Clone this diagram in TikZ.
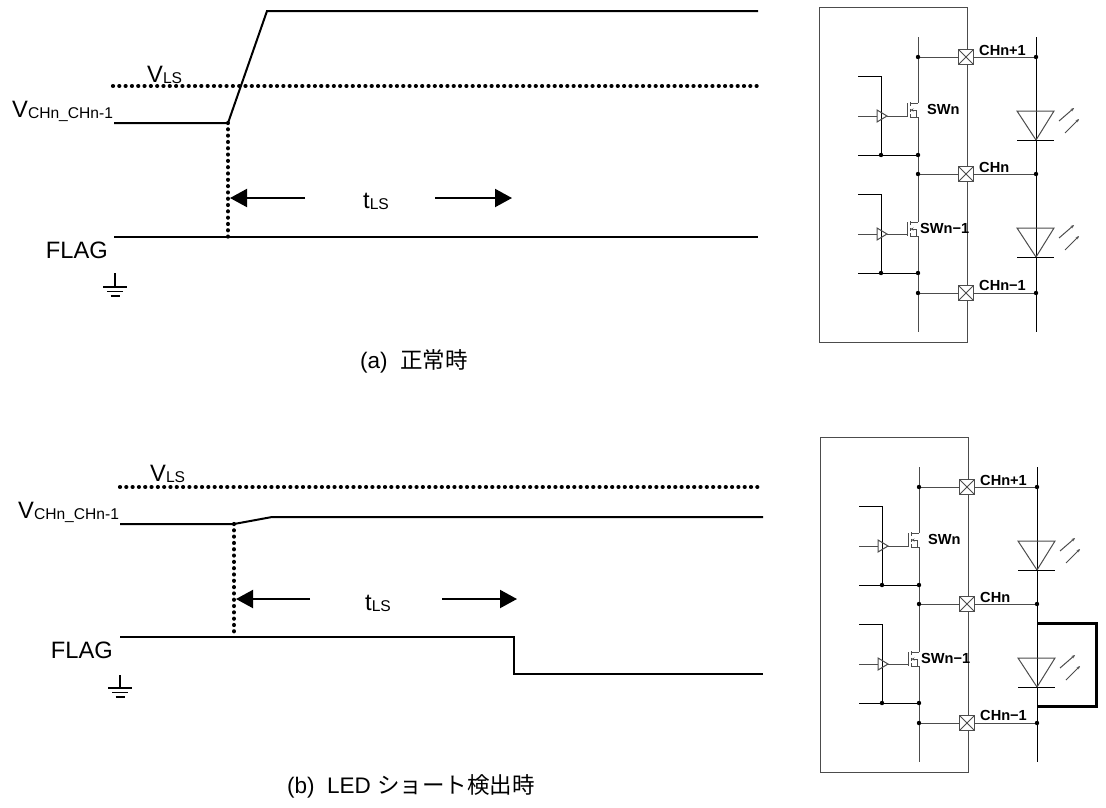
\documentclass[tikz,border=0pt]{standalone}
\usepackage{fontspec}
\setmainfont{Liberation Sans}
\newfontfamily\jpfont{Noto Sans CJK JP}
\usetikzlibrary{arrows.meta}
\newcommand\lsub[1]{\raisebox{-1pt}{\fontsize{15.6}{16}\selectfont #1}}
\begin{document}
\begin{tikzpicture}[x=1pt,y=-1pt,
  sig/.style={line width=2pt},
  dots/.style={line width=4.2pt, line cap=round, dash pattern=on 0.01pt off 6.3pt},
  tarrow/.style={line width=2pt, -{Triangle[length=17pt,width=18pt]}},
  lbl/.style={font=\fontsize{23.7}{28}\selectfont, inner sep=0pt},
  capt/.style={font=\fontsize{22.5}{27}\selectfont, inner sep=0pt},
  ckt/.style={line width=1pt, draw=black!70},
  cktb/.style={line width=1pt, draw=black},
  cktlbl/.style={font=\fontsize{14.6}{16}\selectfont\bfseries, inner sep=0pt},
  gnd/.style={line width=1.3pt},
]
\useasboundingbox (0,0) rectangle (1106,807);

% ================= (a) timing =================
\coordinate (aV0) at (114,123);
\coordinate (aV1) at (228,123);
\coordinate (aV2) at (267,11);
\coordinate (aV3) at (758,11);
\coordinate (aL0) at (113,86);
\coordinate (aL1) at (758,86);
\coordinate (aF0) at (114,237);
\coordinate (aF1) at (758,237);
\coordinate (aD1) at (228,237);
\coordinate (aA0) at (305,198);
\coordinate (aA1) at (230,198);
\coordinate (aB0) at (435,198);
\coordinate (aB1) at (512,198);
\draw[sig] (aV0) -- (aV1) -- (aV2) -- (aV3);
\draw[dots] (aL0) -- (aL1);
\draw[dots] (aV1) -- (aD1);
\draw[sig] (aF0) -- (aF1);
\draw[tarrow] (aA0) -- (aA1);
\draw[tarrow] (aB0) -- (aB1);
\node[lbl, anchor=base west] (aVLS) at (147,82) {V\lsub{LS}};
\node[lbl, anchor=base west] (aVCH) at (12,117) {V\lsub{CHn\_CHn-1}};
\node[lbl, anchor=base east] (aFLAG) at (108,258) {FLAG};
\node[lbl, anchor=base west] (atLS) at (363,208) {t\lsub{LS}};
\coordinate (aG0) at (115,273);
\coordinate (aG1) at (115,287);
\draw[gnd] (aG0) -- (aG1);
\draw[gnd] (103,287) -- (127,287);
\draw[gnd] (107,291.5) -- (123,291.5);
\draw[gnd] (110.5,296) -- (119.5,296);
\node[capt, anchor=base west] (acap) at (360,368) {(a)\ \ {\jpfont 正常時}};

% ================= (b) timing =================
\coordinate (bV0) at (120,524);
\coordinate (bV1) at (234,524);
\coordinate (bV2) at (272,517);
\coordinate (bV3) at (763,517);
\coordinate (bL0) at (120,487);
\coordinate (bL1) at (763,487);
\coordinate (bF0) at (120,637);
\coordinate (bF1) at (514,637);
\coordinate (bF2) at (514,674);
\coordinate (bF3) at (763,674);
\coordinate (bD1) at (234,637);
\coordinate (bA0) at (310,599);
\coordinate (bA1) at (236,599);
\coordinate (bB0) at (442,599);
\coordinate (bB1) at (517,599);
\draw[sig] (bV0) -- (bV1) -- (bV2) -- (bV3);
\draw[dots] (bL0) -- (bL1);
\draw[dots] (bV1) -- (bD1);
\draw[sig] (bF0) -- (bF1) -- (bF2) -- (bF3);
\draw[tarrow] (bA0) -- (bA1);
\draw[tarrow] (bB0) -- (bB1);
\node[lbl, anchor=base west] (bVLS) at (150,481) {V\lsub{LS}};
\node[lbl, anchor=base west] (bVCH) at (18,518) {V\lsub{CHn\_CHn-1}};
\node[lbl, anchor=base east] (bFLAG) at (113,658) {FLAG};
\node[lbl, anchor=base west] (btLS) at (365,610) {t\lsub{LS}};
\coordinate (bG0) at (120,675);
\coordinate (bG1) at (120,688);
\draw[gnd] (bG0) -- (bG1);
\draw[gnd] (108,688) -- (132,688);
\draw[gnd] (112,692.5) -- (128,692.5);
\draw[gnd] (115.5,697) -- (124.5,697);
\node[capt, anchor=base west] (bcap) at (287,793) {(b)\ \ LED {\jpfont ショート検出時}};

% ================= circuits =================
\foreach \p/\dx/\dy in {a/0/0, b/1/430} {
\begin{scope}[shift={(\dx,\dy)}]
  \draw[ckt] (819,7) rectangle (967,342);
  % bus
  \draw[ckt] (918,37) -- (918,103);
  \draw[ckt] (918,117) -- (918,222);
  \draw[ckt] (918,236) -- (918,332);
  % LED column
  \draw[cktb] (1036,37) -- (1036,332);
  % pads
  \foreach \yy in {57,174,293} {
    \draw[ckt] (918,\yy) -- (958.5,\yy);
    \draw[ckt] (973.5,\yy) -- (1036,\yy);
    \draw[ckt, fill=white] (958.5,\yy-7.5) rectangle (973.5,\yy+7.5);
    \draw[ckt] (958.5,\yy-7.5) -- (973.5,\yy+7.5);
    \draw[ckt] (958.5,\yy+7.5) -- (973.5,\yy-7.5);
    \fill (918,\yy) circle (2.2pt);
    \fill (1036,\yy) circle (2.2pt);
  }
  % drivers + MOSFETs
  \foreach \yt/\yb/\ybot/\yd/\ys in {76/116/155/103/117, 194/234/273/222/236} {
    \draw[cktb] (858,\yt) -- (881,\yt) -- (881,\ybot);
    \draw[ckt] (858,\yb) -- (877,\yb);
    \draw[ckt] (877,\yb-6) -- (887,\yb) -- (877,\yb+6) -- cycle;
    \draw[ckt] (887,\yb) -- (907,\yb);
    \draw[ckt] (907,\yd) -- (907,\ys);
    \draw[ckt] (910,\yd-1) -- (910,\yd+3);
    \draw[ckt] (910,\yd+5.5) -- (910,\ys-5.5);
    \draw[ckt] (910,\ys-3) -- (910,\ys+1);
    \draw[ckt] (910,\yd) -- (918,\yd);
    \draw[ckt] (910,\ys) -- (918,\ys);
    \draw[ckt, -{Stealth[length=3pt,width=3pt]}] (916,{(\yd+\ys)/2}) -- (910.5,{(\yd+\ys)/2});
    \draw[ckt] (916,{(\yd+\ys)/2}) -- (916,\ys);
    \draw[cktb] (858,\ybot) -- (918,\ybot);
    \fill (881,\ybot) circle (2.2pt);
    \fill (918,\ybot) circle (2.2pt);
  }
  % LEDs
  \foreach \T in {111,228} {
    \draw[ckt] (1017,\T) -- (1054,\T) -- (1036,\T+29) -- cycle;
    \draw[cktb] (1017,\T+29) -- (1054,\T+29);
    \draw[ckt, -{Stealth[length=3.5pt,width=3pt]}] (1059,\T+10) -- (1074,\T-3);
    \draw[ckt, -{Stealth[length=3.5pt,width=3pt]}] (1065,\T+22) -- (1079,\T+8);
  }
  \node[cktlbl, anchor=base west] (\p ch1) at (979,55) {CHn+1};
  \node[cktlbl, anchor=base west] (\p ch2) at (979,172) {CHn};
  \node[cktlbl, anchor=base west] (\p ch3) at (979,290) {CHn−1};
  \node[cktlbl, anchor=base west] (\p sw1) at (927,114) {SWn};
  \node[cktlbl, anchor=base west] (\p sw2) at (920,233) {SWn−1};
\end{scope}
}
% short wire in (b)
\draw[line width=3pt] (1037,623) -- (1096,623) -- (1096,706) -- (1037,706);
\end{tikzpicture}
\end{document}
